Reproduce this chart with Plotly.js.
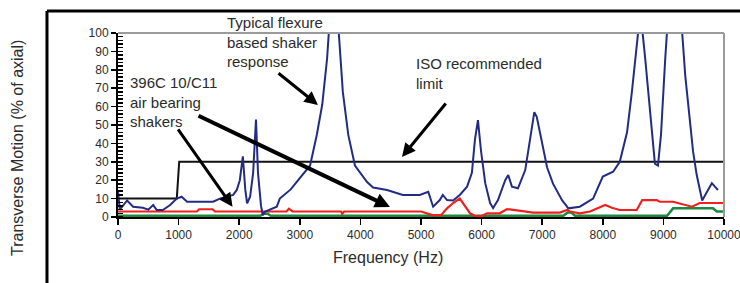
<!DOCTYPE html>
<html>
<head>
<meta charset="utf-8">
<script src="https://cdn.plot.ly/plotly-3.0.1.min.js"></script>
<style>html,body{margin:0;padding:0;background:#fff;}#chart{width:740px;height:283px;}</style>
</head>
<body>
<div id="chart"></div>
<script>
// Typical flexure based shaker response (blue)
const flexHz = [0,30,150,250,410,500,580,640,740,860,970,1050,1140,1350,1570,1680,1900,1960,2010,2060,2100,2130,2180,2230,2277,2310,2360,2390,2430,2620,2670,2850,3000,3170,3280,3370,3450,3560,3710,3800,3910,4110,4210,4440,4700,4980,5120,5200,5310,5360,5430,5530,5640,5760,5840,5890,5940,5990,6060,6140,6190,6270,6390,6440,6500,6600,6720,6800,6870,6910,7000,7080,7180,7330,7410,7430,7620,7840,8000,8170,8280,8400,8480,8530,8620,8700,8750,8810,8860,8910,8960,9030,9180,9360,9440,9490,9550,9640,9720,9800,9850,9900];
const flexVal = [14,4,9,5.6,5,4,6.5,3.8,3.8,6.5,10,11,8.3,8.3,8.3,10,12,14.7,20,33,15,7.4,11,24,53,24,6,1,3,5.6,10,15,21,28,44.6,61,86,140,68,44.6,28,19,16,14.7,12,12,13.7,5.6,9.2,12,9.2,9,12,16.5,24,42,52.7,36,18.4,7.6,4.9,9.2,20,22.8,16.5,15.6,25.5,43.6,57,54.5,40,27,18,9,5.6,4.7,5.6,10,22,24.6,30,46,68,82.6,112,86,68,48,29,28,44.6,86,160,77,52,35.5,22.8,9,13.7,18.4,16.5,14.7];

// 396C10 air bearing shaker (red)
const redHz = [0,1300,1340,1560,1600,2780,2820,2880,3680,3700,3730,5000,5190,5330,5430,5530,5640,5730,5810,5890,6000,6090,6300,6420,6520,6680,6850,7290,7410,7460,7620,7790,7900,8040,8150,8280,8560,8650,8890,8940,9160,9400,9470,9600,10000];
const redVal = [3,3,4.2,4.2,3,3,4.5,3,3,1.8,3,3,1,1,4.7,7.6,10,5.6,2,0.5,0.5,2,2,4.3,3.8,3.3,2.4,2.4,3.8,3,2,3,4.7,6.5,5,3.8,3.8,9.2,9.2,8.3,8.3,6.5,5.6,7.6,7.6];

// C11 air bearing shaker (green)
const greenHz = [0,2350,2400,2470,2520,7350,7420,7480,7540,9060,9160,9820,9880,10000];
const greenVal = [0.7,0.7,1.8,1.8,0.7,0.7,2.5,2.5,0.7,0.7,4.7,4.7,3,3];

// ISO recommended limit (black)
const isoHz = [0,970,1010,10000];
const isoVal = [10,10,30,30];

const xTicks = [0,1000,2000,3000,4000,5000,6000,7000,8000,9000,10000];
const yTicks = [0,10,20,30,40,50,60,70,80,90,100];

const FONT = 'Liberation Sans, Arial, Helvetica, sans-serif';
const TXT = '#2b2b2b';

const traces = [
  {x: isoHz, y: isoVal, mode:'lines', line:{color:'#111', width:2}, hoverinfo:'skip'},
  {x: greenHz, y: greenVal, mode:'lines', line:{color:'#1b8a3c', width:2.5}, hoverinfo:'skip'},
  {x: redHz, y: redVal, mode:'lines', line:{color:'#f21f1f', width:2.2}, hoverinfo:'skip'},
  {x: flexHz, y: flexVal, mode:'lines', line:{color:'#232c84', width:2}, hoverinfo:'skip'}
];

function arrow(tx, ty, hx, hy, w, s){
  return {x:hx, y:hy, ax:tx, ay:ty, xref:'x', yref:'y', axref:'x', ayref:'y',
          text:'', showarrow:true, arrowhead:2, arrowsize:s, arrowwidth:w, arrowcolor:'#000', standoff:0};
}
function label(txt, x, y){
  return {x:x, y:y, xref:'x', yref:'y', text:txt, showarrow:false, xanchor:'left', yanchor:'middle',
          align:'left', font:{family:FONT, size:15, color:TXT}};
}

const layout = {
  width:740, height:283,
  margin:{l:118, r:16, t:33, b:66, pad:0},
  paper_bgcolor:'#fff', plot_bgcolor:'#fff',
  showlegend:false,
  font:{family:FONT, color:TXT, size:12},
  xaxis:{range:[0,10000], tickvals:xTicks, ticktext:xTicks.map(String), ticks:'outside', ticklen:6, tickwidth:1.5,
         tickcolor:'#000', showline:true, linecolor:'#000', linewidth:2, showgrid:false, zeroline:false,
         ticklabeloverflow:'allow',
         tickfont:{family:FONT, size:12, color:TXT}, fixedrange:true},
  yaxis:{range:[0,100], tickvals:yTicks, ticktext:yTicks.map(String), ticks:'outside', ticklen:5, tickwidth:1.5,
         tickcolor:'#000', showline:true, linecolor:'#000', linewidth:2, showgrid:false, zeroline:false,
         ticklabeloverflow:'allow',
         tickfont:{family:FONT, size:12, color:TXT}, fixedrange:true,
         minor:{dtick:2, ticks:'inside', ticklen:5, tickwidth:1.5, tickcolor:'#000', showgrid:false}},
  shapes:[
    {type:'line', xref:'paper', yref:'paper', x0:0, x1:1, y0:1, y1:1, line:{color:'#9a9a9a', width:2}},
    {type:'line', xref:'paper', yref:'paper', x0:1, x1:1, y0:0, y1:1, line:{color:'#9a9a9a', width:2}},
    {type:'line', xref:'paper', yref:'paper', x0:-0.1172, x1:1.05, y0:1.1196, y1:1.1196, line:{color:'#000', width:3}},
    {type:'line', xref:'paper', yref:'paper', x0:-0.1172, x1:-0.1172, y0:1.1196, y1:-0.5, line:{color:'#000', width:3}}
  ],
  annotations:[
    label('Typical flexure<br>based shaker<br>response', 1766, 95.3),
    label('396C 10/C11<br>air bearing<br>shakers', 165, 62.5),
    label('ISO recommended<br>limit', 4884, 78),
    arrow(2624, 78.8, 3300, 60.9, 3, 0.9),
    arrow(974, 48.4, 1890, 5.6, 3, 0.9),
    arrow(1304, 55.4, 4488, 5.4, 4, 0.75),
    arrow(5429, 62.5, 4686, 32.6, 3, 0.9),
    {x:-0.1667, y:0.375, xref:'paper', yref:'paper', text:'Transverse Motion (% of axial)', textangle:-90,
     showarrow:false, xanchor:'center', yanchor:'middle', font:{family:FONT, size:16, color:TXT}},
    {x:0.4455, y:-0.2228, xref:'paper', yref:'paper', text:'Frequency (Hz)',
     showarrow:false, xanchor:'center', yanchor:'middle', font:{family:FONT, size:16, color:TXT}}
  ]
};

Plotly.newPlot('chart', traces, layout, {staticPlot:true, displayModeBar:false});
</script>
</body>
</html>
